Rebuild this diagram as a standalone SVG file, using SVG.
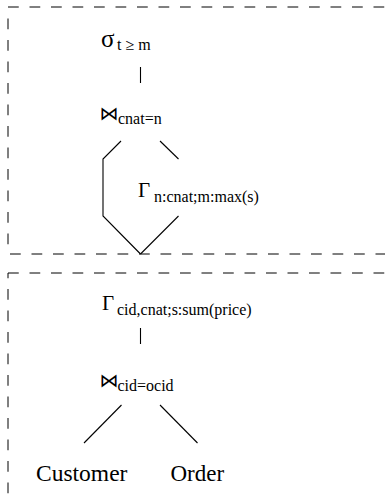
<svg xmlns="http://www.w3.org/2000/svg" width="385" height="499" viewBox="0 0 385 499">
<style>
.dash{stroke:#000;stroke-width:1;fill:none;stroke-dasharray:10.75 10.75}
.edge{stroke:#000;stroke-width:1.1;fill:none}
.m{font-family:"Liberation Serif","Times New Roman",serif;fill:#000}
.s{font-family:"Liberation Serif","Times New Roman",serif;font-size:16px;fill:#000}
.bt{font-family:"DejaVu Sans",sans-serif;font-size:19px;fill:#000}
</style>
<rect width="385" height="499" fill="#fff"/>
<g id="boxes">
<line class="dash" x1="8" y1="7" x2="385" y2="7"/>
<line class="dash" x1="8" y1="18.5" x2="8" y2="253"/>
<line class="dash" x1="10" y1="254" x2="385" y2="254"/>
<line class="dash" x1="8" y1="273" x2="385" y2="273"/>
<line class="dash" x1="8" y1="273" x2="8" y2="499" stroke-dashoffset="5.5"/>
</g>
<g id="connectors">
<line class="edge" x1="140.5" y1="67" x2="140.5" y2="83"/>
<polyline class="edge" points="121,141 103,159 103,216 140.5,254"/>
<line class="edge" x1="160" y1="141" x2="178.5" y2="159"/>
<line class="edge" x1="178.5" y1="216" x2="140.5" y2="254"/>
<line class="edge" x1="140.5" y1="328" x2="140.5" y2="344"/>
<line class="edge" x1="121.5" y1="405" x2="84" y2="443"/>
<line class="edge" x1="160" y1="405" x2="197.5" y2="443"/>
</g>
<g id="select">
<text class="m" x="101" y="47" font-size="25">σ</text>
<text class="s" x="117" y="50">t ≥ m</text>
</g>
<g id="join1">
<text class="bt" x="99.5" y="120">⋈</text>
<text class="s" x="118" y="124">cnat=n</text>
</g>
<g id="agg1">
<text class="m" x="138" y="197" font-size="21">Γ</text>
<text class="s" x="154" y="202">n:cnat;m:max(s)</text>
</g>
<g id="agg2">
<text class="m" x="102" y="310" font-size="21">Γ</text>
<text class="s" x="117" y="315" font-size="15.7">cid,cnat;s:sum(price)</text>
</g>
<g id="join2">
<text class="bt" x="99.5" y="387">⋈</text>
<text class="s" x="117.5" y="391" font-size="16.6">cid=ocid</text>
</g>
<g id="customer">
<text class="m" x="36" y="481" font-size="23.5">Customer</text>
</g>
<g id="order">
<text class="m" x="170.5" y="481" font-size="23">Order</text>
</g>
</svg>
